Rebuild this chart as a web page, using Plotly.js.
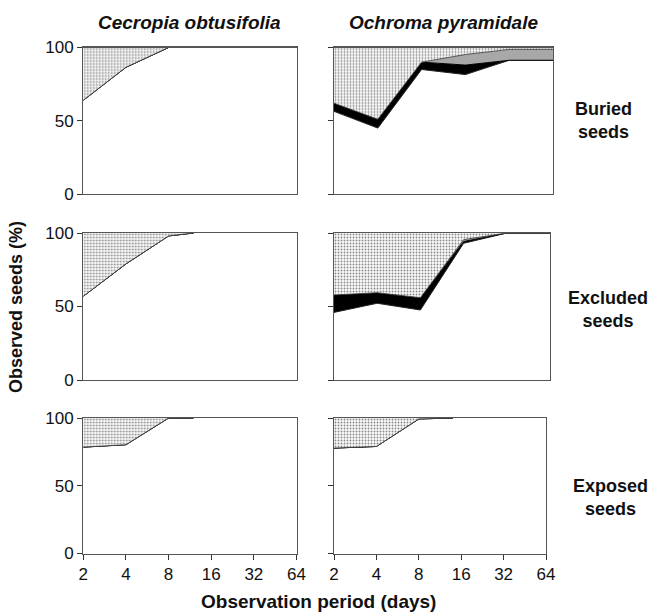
<!DOCTYPE html>
<html>
<head>
<meta charset="utf-8">
<script src="https://cdn.plot.ly/plotly-3.0.1.min.js"></script>
<style>
  html, body { margin: 0; padding: 0; background: #fff; }
  #chart { width: 649px; height: 613px; }
</style>
</head>
<body>
<div id="chart"></div>
<script>
// ---------- data (observation day, % of seeds per category) ----------
const daysCecropia = [2, 4, 8, 12];
const daysOchroma = [2, 4, 8, 16, 32, 64];
const daysOchromaExposed = [2, 4, 8, 14];
const xTickVals = [2, 4, 8, 16, 32, 64];
const xTickText = ['2', '4', '8', '16', '32', '64'];
const yTickVals = [0, 50, 100];
const yTickText = ['0', '50', '100'];

// Cecropia obtusifolia
const cecBuriedWhite = [64, 86.5, 100, 100];
const cecBuriedBlack = [0, 0, 0, 0];
const cecBuriedGrey = [0, 0, 0, 0];
const cecBuriedDotted = [36, 13.5, 0, 0];

const cecExcludedWhite = [57, 79, 98, 100];
const cecExcludedBlack = [0, 0, 0, 0];
const cecExcludedGrey = [0, 0, 0, 0];
const cecExcludedDotted = [43, 21, 2, 0];

const cecExposedWhite = [78.5, 80.3, 100, 100];
const cecExposedBlack = [0, 0, 0, 0];
const cecExposedGrey = [0, 0, 0, 0];
const cecExposedDotted = [21.5, 19.7, 0, 0];

// Ochroma pyramidale
const ochBuriedWhite = [56.4, 45, 85, 81.5, 91.3, 91.3];
const ochBuriedBlack = [5.6, 6, 5, 6.5, 0, 0];
const ochBuriedGrey = [0, 0, 0, 7.2, 7.4, 7.4];
const ochBuriedDotted = [38, 49, 10, 4.8, 1.3, 1.3];

const ochExcludedWhite = [46, 52.2, 47.6, 93, 100, 100];
const ochExcludedBlack = [11.8, 7.2, 8.4, 1.2, 0, 0];
const ochExcludedGrey = [0, 0, 0, 1.3, 0, 0];
const ochExcludedDotted = [42.2, 40.6, 44, 4.5, 0, 0];

const ochExposedWhite = [77.8, 79, 99.3, 100];
const ochExposedBlack = [0, 0, 0, 0];
const ochExposedGrey = [0, 0, 0, 0];
const ochExposedDotted = [22.2, 21, 0.7, 0];

const speciesTitles = ['Cecropia obtusifolia', 'Ochroma pyramidale'];
const rowLabels = ['Buried<br>seeds', 'Excluded<br>seeds', 'Exposed<br>seeds'];
const yTitle = 'Observed seeds (%)';
const xTitle = 'Observation period (days)';

// ---------- panel geometry (pixels) ----------
const W = 649, H = 613;
const colX = [[83.3, 296.5], [334, 553], [334, 550], [334, 546]];
const rowY = [[47.5, 194], [233, 380], [418, 553.5]];
const px = v => v / W;
const py = v => 1 - v / H;

const panels = [
  {x: daysCecropia, d: [cecBuriedWhite, cecBuriedBlack, cecBuriedGrey, cecBuriedDotted], row: 0, col: 0},
  {x: daysOchroma, d: [ochBuriedWhite, ochBuriedBlack, ochBuriedGrey, ochBuriedDotted], row: 0, col: 1},
  {x: daysCecropia, d: [cecExcludedWhite, cecExcludedBlack, cecExcludedGrey, cecExcludedDotted], row: 1, col: 0},
  {x: daysOchroma, d: [ochExcludedWhite, ochExcludedBlack, ochExcludedGrey, ochExcludedDotted], row: 1, col: 1},
  {x: daysCecropia, d: [cecExposedWhite, cecExposedBlack, cecExposedGrey, cecExposedDotted], row: 2, col: 0},
  {x: daysOchromaExposed, d: [ochExposedWhite, ochExposedBlack, ochExposedGrey, ochExposedDotted], row: 2, col: 1}
];

const seriesStyle = [
  {name: 'White', fillcolor: '#ffffff', line: {color: '#222', width: 1}},
  {name: 'Black', fillcolor: '#000000', line: {color: '#000', width: 1}},
  {name: 'Grey', fillcolor: '#a8a8a8', line: {color: '#333', width: 0.8}},
  {name: 'Dotted', fillcolor: '#ffffff', line: {color: '#999', width: 0},
   fillpattern: {shape: '.', fgcolor: '#8a8a8a', bgcolor: '#fafafa', size: 3, solidity: 0.3}}
];

const FONT = 'Liberation Sans, Arial, sans-serif';
const traces = [];
const layout = {
  width: W, height: H,
  margin: {l: 0, r: 0, t: 0, b: 0},
  paper_bgcolor: '#fff', plot_bgcolor: '#fff',
  showlegend: false, hovermode: false,
  font: {family: FONT, size: 17, color: '#111'},
  annotations: []
};

panels.forEach((p, i) => {
  const n = i + 1;
  const xa = 'x' + (n === 1 ? '' : n);
  const ya = 'y' + (n === 1 ? '' : n);
  seriesStyle.forEach((s, k) => {
    const t = {
      type: 'scatter', mode: 'lines',
      x: p.x, y: p.d[k],
      xaxis: xa, yaxis: ya,
      stackgroup: 'g' + n,
      name: s.name,
      fillcolor: s.fillcolor,
      line: Object.assign({shape: 'linear'}, s.line)
    };
    if (s.fillpattern) t.fillpattern = s.fillpattern;
    traces.push(t);
  });
  const cx = p.col === 0 ? colX[0] : colX[1 + p.row];
  const ry = rowY[p.row];
  const bottom = p.row === 2;
  const left = p.col === 0;
  layout['xaxis' + (n === 1 ? '' : n)] = {
    domain: [px(cx[0]), px(cx[1])],
    anchor: ya,
    type: 'log',
    range: [Math.log10(2), Math.log10(64)],
    tickvals: xTickVals, ticktext: xTickText,
    showticklabels: bottom,
    ticks: bottom ? 'outside' : '',
    ticklen: 5, tickcolor: '#333', tickwidth: 1,
    showline: true, mirror: true, linecolor: '#555', linewidth: 1.3,
    showgrid: false, zeroline: false, fixedrange: true,
    tickfont: {family: FONT, size: 17, color: '#111'}
  };
  layout['yaxis' + (n === 1 ? '' : n)] = {
    domain: [py(ry[1]), py(ry[0])],
    anchor: xa,
    range: [0, 100],
    tickvals: yTickVals, ticktext: yTickText,
    showticklabels: left,
    ticks: 'outside', ticklen: 5, tickcolor: '#333', tickwidth: 1,
    showline: true, mirror: true, linecolor: '#555', linewidth: 1.3,
    showgrid: false, zeroline: false, fixedrange: true,
    tickfont: {family: FONT, size: 17, color: '#111'}
  };
});

// titles
const ann = layout.annotations;
ann.push({text: '<b><i>' + speciesTitles[0] + '</i></b>', x: px(189), y: py(22), xref: 'paper', yref: 'paper',
  showarrow: false, xanchor: 'center', yanchor: 'middle', font: {family: FONT, size: 19, color: '#111'}});
ann.push({text: '<b><i>' + speciesTitles[1] + '</i></b>', x: px(443), y: py(22), xref: 'paper', yref: 'paper',
  showarrow: false, xanchor: 'center', yanchor: 'middle', font: {family: FONT, size: 19, color: '#111'}});
const rowLabelY = [121, 309, 497];
const rowLabelX = [603, 608, 610];
rowLabels.forEach((t, r) => {
  ann.push({text: '<b>' + t + '</b>', x: px(rowLabelX[r]), y: py(rowLabelY[r]), xref: 'paper', yref: 'paper',
    showarrow: false, xanchor: 'center', yanchor: 'middle', align: 'center',
    font: {family: FONT, size: 18, color: '#111'}});
});
ann.push({text: '<b>' + yTitle + '</b>', x: px(16), y: py(307), xref: 'paper', yref: 'paper', textangle: -90,
  showarrow: false, xanchor: 'center', yanchor: 'middle', font: {family: FONT, size: 18, color: '#111'}});
ann.push({text: '<b>' + xTitle + '</b>', x: px(318), y: py(601), xref: 'paper', yref: 'paper',
  showarrow: false, xanchor: 'center', yanchor: 'middle', font: {family: FONT, size: 19, color: '#111'}});

Plotly.newPlot('chart', traces, layout, {staticPlot: true, displayModeBar: false});
</script>
</body>
</html>
